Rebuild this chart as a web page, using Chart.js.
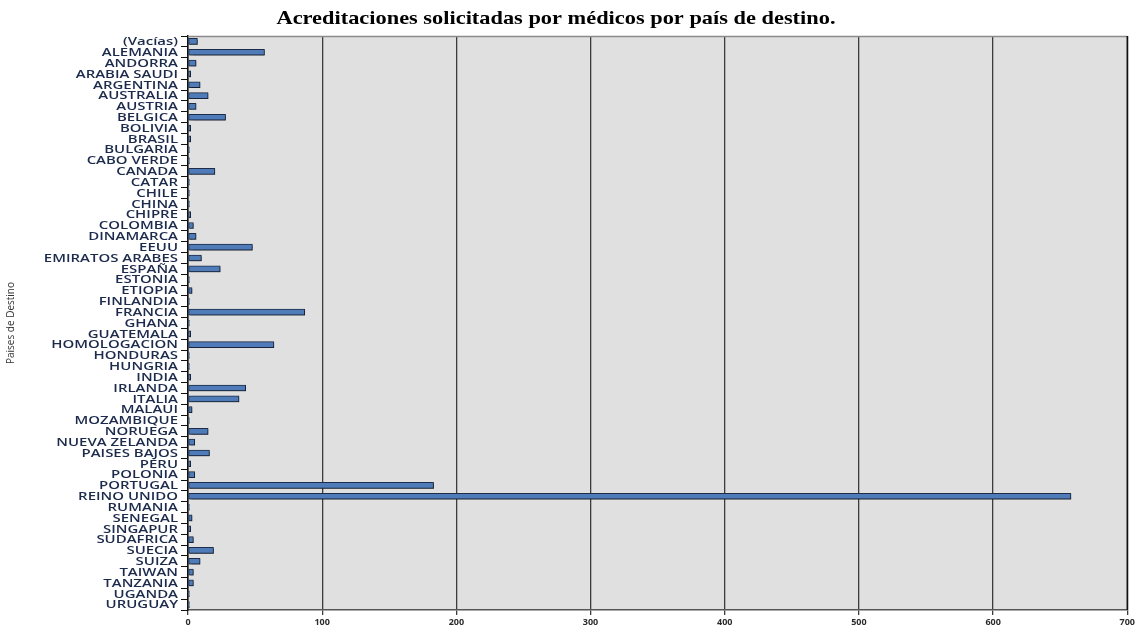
<!DOCTYPE html>
<html>
<head>
<meta charset="utf-8">
<script src="https://cdn.jsdelivr.net/npm/chart.js@4/dist/chart.umd.min.js"></script>
<style>
  html, body { margin: 0; padding: 0; background: #ffffff; }
  #wrap { width: 1137px; height: 628px; position: relative; }
</style>
</head>
<body>
<div id="wrap"><canvas id="c" width="1137" height="628"></canvas></div>
<script>
// Destination countries (in order, top to bottom)
const paises = [
  "(Vacías)", "ALEMANIA", "ANDORRA", "ARABIA SAUDI", "ARGENTINA", "AUSTRALIA", "AUSTRIA",
  "BELGICA", "BOLIVIA", "BRASIL", "BULGARIA", "CABO VERDE", "CANADA", "CATAR", "CHILE",
  "CHINA", "CHIPRE", "COLOMBIA", "DINAMARCA", "EEUU", "EMIRATOS ARABES", "ESPAÑA",
  "ESTONIA", "ETIOPIA", "FINLANDIA", "FRANCIA", "GHANA", "GUATEMALA", "HOMOLOGACION",
  "HONDURAS", "HUNGRIA", "INDIA", "IRLANDA", "ITALIA", "MALAUI", "MOZAMBIQUE", "NORUEGA",
  "NUEVA ZELANDA", "PAISES BAJOS", "PERU", "POLONIA", "PORTUGAL", "REINO UNIDO", "RUMANIA",
  "SENEGAL", "SINGAPUR", "SUDAFRICA", "SUECIA", "SUIZA", "TAIWAN", "TANZANIA", "UGANDA",
  "URUGUAY"
];

// Accreditations requested by doctors, per destination
const acreditaciones = [
  7, 57, 6, 2, 9, 15, 6,
  28, 2, 2, 1, 1, 20, 1, 1,
  1, 2, 4, 6, 48, 10, 24,
  1, 3, 1, 87, 1, 2, 64,
  1, 1, 2, 43, 38, 3, 1, 15,
  5, 16, 2, 5, 183, 658, 1,
  3, 2, 4, 19, 9, 4, 4, 1,
  1
];

// Value axis ticks
const ejeX = { min: 0, max: 700, paso: 100 };

const tituloGrafico = "Acreditaciones solicitadas por médicos por país de destino.";
const tituloEjeY = "Paises de Destino";

// Draws text widened horizontally by factor sx, anchored at (x, y)
function wideText(ctx, text, x, y, sx, align) {
  ctx.save();
  ctx.translate(x, y);
  ctx.scale(sx, 1);
  ctx.textAlign = align;
  ctx.fillText(text, 0, 0);
  ctx.restore();
}

// Grey plot area, frame, heading and wide category labels
const plotFrame = {
  id: 'plotFrame',
  beforeDraw(chart) {
    const { ctx, chartArea: a } = chart;
    ctx.save();
    ctx.fillStyle = '#e0e0e0';
    ctx.fillRect(a.left, a.top, a.right - a.left, a.bottom - a.top);
    ctx.restore();
  },
  afterDraw(chart) {
    const { ctx, chartArea: a } = chart;
    ctx.save();
    ctx.strokeStyle = '#8a8a8a';
    ctx.lineWidth = 1.5;
    ctx.beginPath();
    ctx.moveTo(a.left, a.top + 0.5);
    ctx.lineTo(a.right, a.top + 0.5);
    ctx.stroke();
    ctx.strokeStyle = '#111111';
    ctx.beginPath();
    ctx.moveTo(a.right, a.top);
    ctx.lineTo(a.right, a.bottom);
    ctx.stroke();

    // heading
    ctx.fillStyle = '#000000';
    ctx.font = 'bold 19px "Liberation Serif", "DejaVu Serif", serif';
    ctx.textBaseline = 'middle';
    const w = ctx.measureText(tituloGrafico).width;
    wideText(ctx, tituloGrafico, 556, 19, 559 / w, 'center');

    // category labels, placed on the category scale
    const ys = chart.scales.y;
    ctx.fillStyle = '#1c2a4c';
    ctx.font = '600 11.5px "Open Sans", "DejaVu Sans", sans-serif';
    ctx.textBaseline = 'middle';
    paises.forEach((p, i) => {
      wideText(ctx, p, ys.right - 10, ys.getPixelForTick(i) + 0.5, 1.3, 'right');
    });
    ctx.restore();
  }
};

// Soft drop shadow under the bars
const barShadow = {
  id: 'barShadow',
  beforeDatasetsDraw(chart) {
    const ctx = chart.ctx;
    ctx.save();
    ctx.shadowColor = 'rgba(0,0,0,0.35)';
    ctx.shadowOffsetX = 1;
    ctx.shadowOffsetY = 1;
    ctx.shadowBlur = 1;
  },
  afterDatasetsDraw(chart) {
    chart.ctx.restore();
  }
};

new Chart(document.getElementById('c'), {
  type: 'bar',
  data: {
    labels: paises,
    datasets: [{
      data: acreditaciones,
      backgroundColor: '#4f7cb8',
      borderColor: '#1d2c48',
      borderWidth: 1,
      borderSkipped: false,
      barThickness: 6
    }]
  },
  options: {
    indexAxis: 'y',
    responsive: false,
    animation: false,
    devicePixelRatio: 1,
    layout: { padding: { top: 36, right: 9, bottom: 0, left: 0 } },
    plugins: {
      legend: { display: false },
      title: { display: false },
      tooltip: { enabled: false }
    },
    scales: {
      x: {
        type: 'linear',
        min: ejeX.min,
        max: ejeX.max,
        afterFit(scale) { scale.height = 18; },
        ticks: {
          stepSize: ejeX.paso,
          color: '#2b2b2b',
          padding: 2,
          font: { family: '"Open Sans", "DejaVu Sans", sans-serif', size: 9, weight: 'bold' }
        },
        grid: {
          color: '#3c3c3c',
          lineWidth: 1.3,
          tickLength: 5,
          drawOnChartArea: true
        },
        border: { color: '#555555', width: 1.5 }
      },
      y: {
        afterFit(scale) { scale.width = 188; },
        ticks: { display: false, autoSkip: false },
        grid: {
          drawOnChartArea: false,
          drawTicks: true,
          color: '#111111',
          tickLength: 7,
          offset: true
        },
        border: { color: '#111111', width: 1.5 },
        title: {
          display: true,
          text: tituloEjeY,
          color: '#333333',
          padding: { top: 5, bottom: 0 },
          font: { family: '"Open Sans", "DejaVu Sans", sans-serif', size: 10 }
        }
      }
    }
  },
  plugins: [plotFrame, barShadow]
});
</script>
</body>
</html>
